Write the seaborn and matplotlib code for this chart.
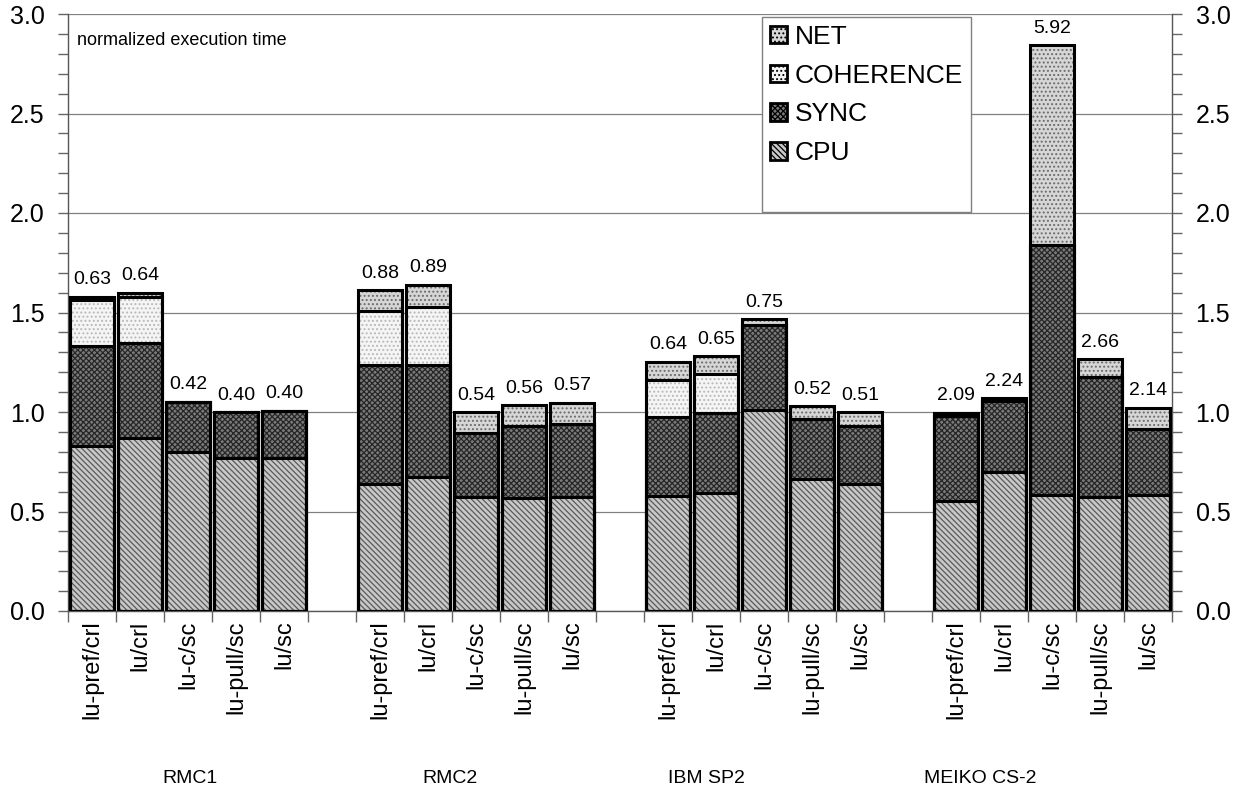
import matplotlib
matplotlib.use("Agg")
import matplotlib.pyplot as plt
from matplotlib.patches import Patch, Rectangle
from matplotlib.ticker import MultipleLocator, FixedLocator
import numpy as np
import pandas as pd
import seaborn as sns

sns.set_style("white")
plt.rcParams['font.family'] = ['Liberation Sans', 'DejaVu Sans']
plt.rcParams['text.color'] = 'black'
plt.rcParams['xtick.labelcolor'] = 'black'
plt.rcParams['ytick.labelcolor'] = 'black'
plt.rcParams['hatch.linewidth'] = 0.9

# ---------------- data ----------------
groups = ["RMC1", "RMC2", "IBM SP2", "MEIKO CS-2"]
configs = ["lu-pref/crl", "lu/crl", "lu-c/sc", "lu-pull/sc", "lu/sc"]

cpu = [0.83, 0.87, 0.80, 0.77, 0.77,
       0.64, 0.675, 0.575, 0.57, 0.575,
       0.58, 0.595, 1.01, 0.665, 0.64,
       0.555, 0.70, 0.585, 0.575, 0.585]
sync = [0.503, 0.478, 0.252, 0.23, 0.237,
        0.596, 0.561, 0.321, 0.36, 0.365,
        0.396, 0.398, 0.427, 0.30, 0.29,
        0.425, 0.356, 1.255, 0.60, 0.33]
coherence = [0.23, 0.232, 0.0, 0.0, 0.0,
             0.274, 0.294, 0.0, 0.0, 0.0,
             0.185, 0.197, 0.0, 0.0, 0.0,
             0.0, 0.0, 0.0, 0.0, 0.0]
net = [0.017, 0.02, 0.0, 0.0, 0.0,
       0.103, 0.11, 0.102, 0.104, 0.107,
       0.092, 0.09, 0.03, 0.065, 0.07,
       0.016, 0.014, 1.004, 0.09, 0.106]
bar_labels = ["0.63", "0.64", "0.42", "0.40", "0.40",
              "0.88", "0.89", "0.54", "0.56", "0.57",
              "0.64", "0.65", "0.75", "0.52", "0.51",
              "2.09", "2.24", "5.92", "2.66", "2.14"]
group_label_x = [2.05, 7.45, 12.8, 18.5]

# slot order with an empty slot between groups
order = []
rows = []
k = 0
for gi, g in enumerate(groups):
    for c in configs:
        key = g + "|" + c
        order.append(key)
        rows.append((key, g, c, cpu[k], sync[k], coherence[k], net[k], bar_labels[k]))
        k += 1
    if gi < len(groups) - 1:
        order.append("gap%d" % gi)

df = pd.DataFrame(rows, columns=["slot", "group", "config", "CPU", "SYNC",
                                 "COHERENCE", "NET", "label"])
df["c_cpu"] = df["CPU"]
df["c_sync"] = df["c_cpu"] + df["SYNC"]
df["c_coh"] = df["c_sync"] + df["COHERENCE"]
df["c_net"] = df["c_coh"] + df["NET"]

# style per segment: (name, cum column, face, hatch colour, hatch)
layers = [
    ("NET", "c_net", "#d6d6d6", "#6a6a6a", "...."),
    ("COHERENCE", "c_coh", "#f5f5f5", "#b8b8b8", "...."),
    ("SYNC", "c_sync", "#7a7a7a", "#262626", "xxxxxx"),
    ("CPU", "c_cpu", "#c8c8c8", "#5a5a5a", "\\\\\\\\\\\\"),
]

fig = plt.figure(figsize=(12.38, 7.92), dpi=100)
ax = fig.add_axes([68 / 1238, 1 - 611 / 792, 1104 / 1238, 597 / 792])
ax.set_axisbelow(True)

outline_src = []
for name, col, face, hcol, hatch in layers:
    n_before = len(ax.patches)
    sns.barplot(data=df, x="slot", y=col, order=order, color=face, saturation=1,
                edgecolor=hcol, linewidth=0, hatch=hatch, width=0.92,
                errorbar=None, ax=ax)
    outline_src.extend(ax.patches[n_before:])

# black outlines around every segment
for p in outline_src:
    if p.get_height() > 0:
        ax.add_patch(Rectangle(p.get_xy(), p.get_width(), p.get_height(),
                               fill=False, edgecolor="black", linewidth=2.2,
                               zorder=3))

# value labels over the bars
for i, row in df.iterrows():
    xi = order.index(row["slot"])
    ax.annotate(row["label"], (xi, row["c_net"]), xytext=(0, 6),
                textcoords="offset points", ha="center", va="bottom",
                fontsize=14)

ax.set_xlim(-0.5, len(order) - 0.5)
ax.set_ylim(0, 3.0)
ax.set_xlabel("")
ax.set_ylabel("")

# x axis: labels centred on slots, ticks at slot boundaries
tick_pos = [order.index(s) for s in df["slot"]]
ax.xaxis.set_major_locator(FixedLocator(tick_pos))
ax.set_xticklabels(df["config"], rotation=90, fontsize=17, va="top")
ax.xaxis.set_minor_locator(FixedLocator(np.arange(-0.5, len(order), 1.0)))
ax.tick_params(axis="x", which="major", length=0, pad=7)
ax.tick_params(axis="x", which="minor", length=8, width=1, color="#666666",
               bottom=True)

# y axis on both sides
ax.yaxis.set_major_locator(MultipleLocator(0.5))
ax.yaxis.set_minor_locator(MultipleLocator(0.1))
ax.yaxis.set_major_formatter(matplotlib.ticker.FormatStrFormatter("%.1f"))
ax.tick_params(axis="y", which="both", left=True, right=True, labelright=True,
               direction="out", length=7, width=1, color="#666666",
               labelsize=18, pad=10)
ax.grid(axis="y", which="major", color="#808080", linewidth=0.9)

for s in ["left", "right", "bottom"]:
    ax.spines[s].set_color("#555555")
    ax.spines[s].set_linewidth(1)
ax.spines["top"].set_visible(False)

ax.text(0.008, 0.955, "normalized execution time", transform=ax.transAxes,
        fontsize=13, va="center", ha="left")

for g, gx in zip(groups, group_label_x):
    ax.text(gx, -0.28, g, transform=ax.get_xaxis_transform(), ha="center",
            va="center", fontsize=14)

# legend
handles = [Patch(facecolor=face, edgecolor=hcol, hatch=hatch, linewidth=0)
           for name, col, face, hcol, hatch in layers]
names = [l[0] for l in layers]
handles.append(Patch(facecolor="none", edgecolor="none"))
names.append(" ")
leg = ax.legend(handles, names, loc="upper left", bbox_to_anchor=(0.6286, 0.995),
                fontsize=19, frameon=True, fancybox=False, framealpha=1,
                edgecolor="#808080", handlelength=0.65, handleheight=0.65,
                handletextpad=0.3, labelspacing=0.56, borderpad=0.3,
                borderaxespad=0)
leg.get_frame().set_linewidth(1)
for h in leg.legend_handles[:4]:
    h.set_edgecolor("black")
    h.set_linewidth(2)

fig.savefig("out.png", dpi=100)
